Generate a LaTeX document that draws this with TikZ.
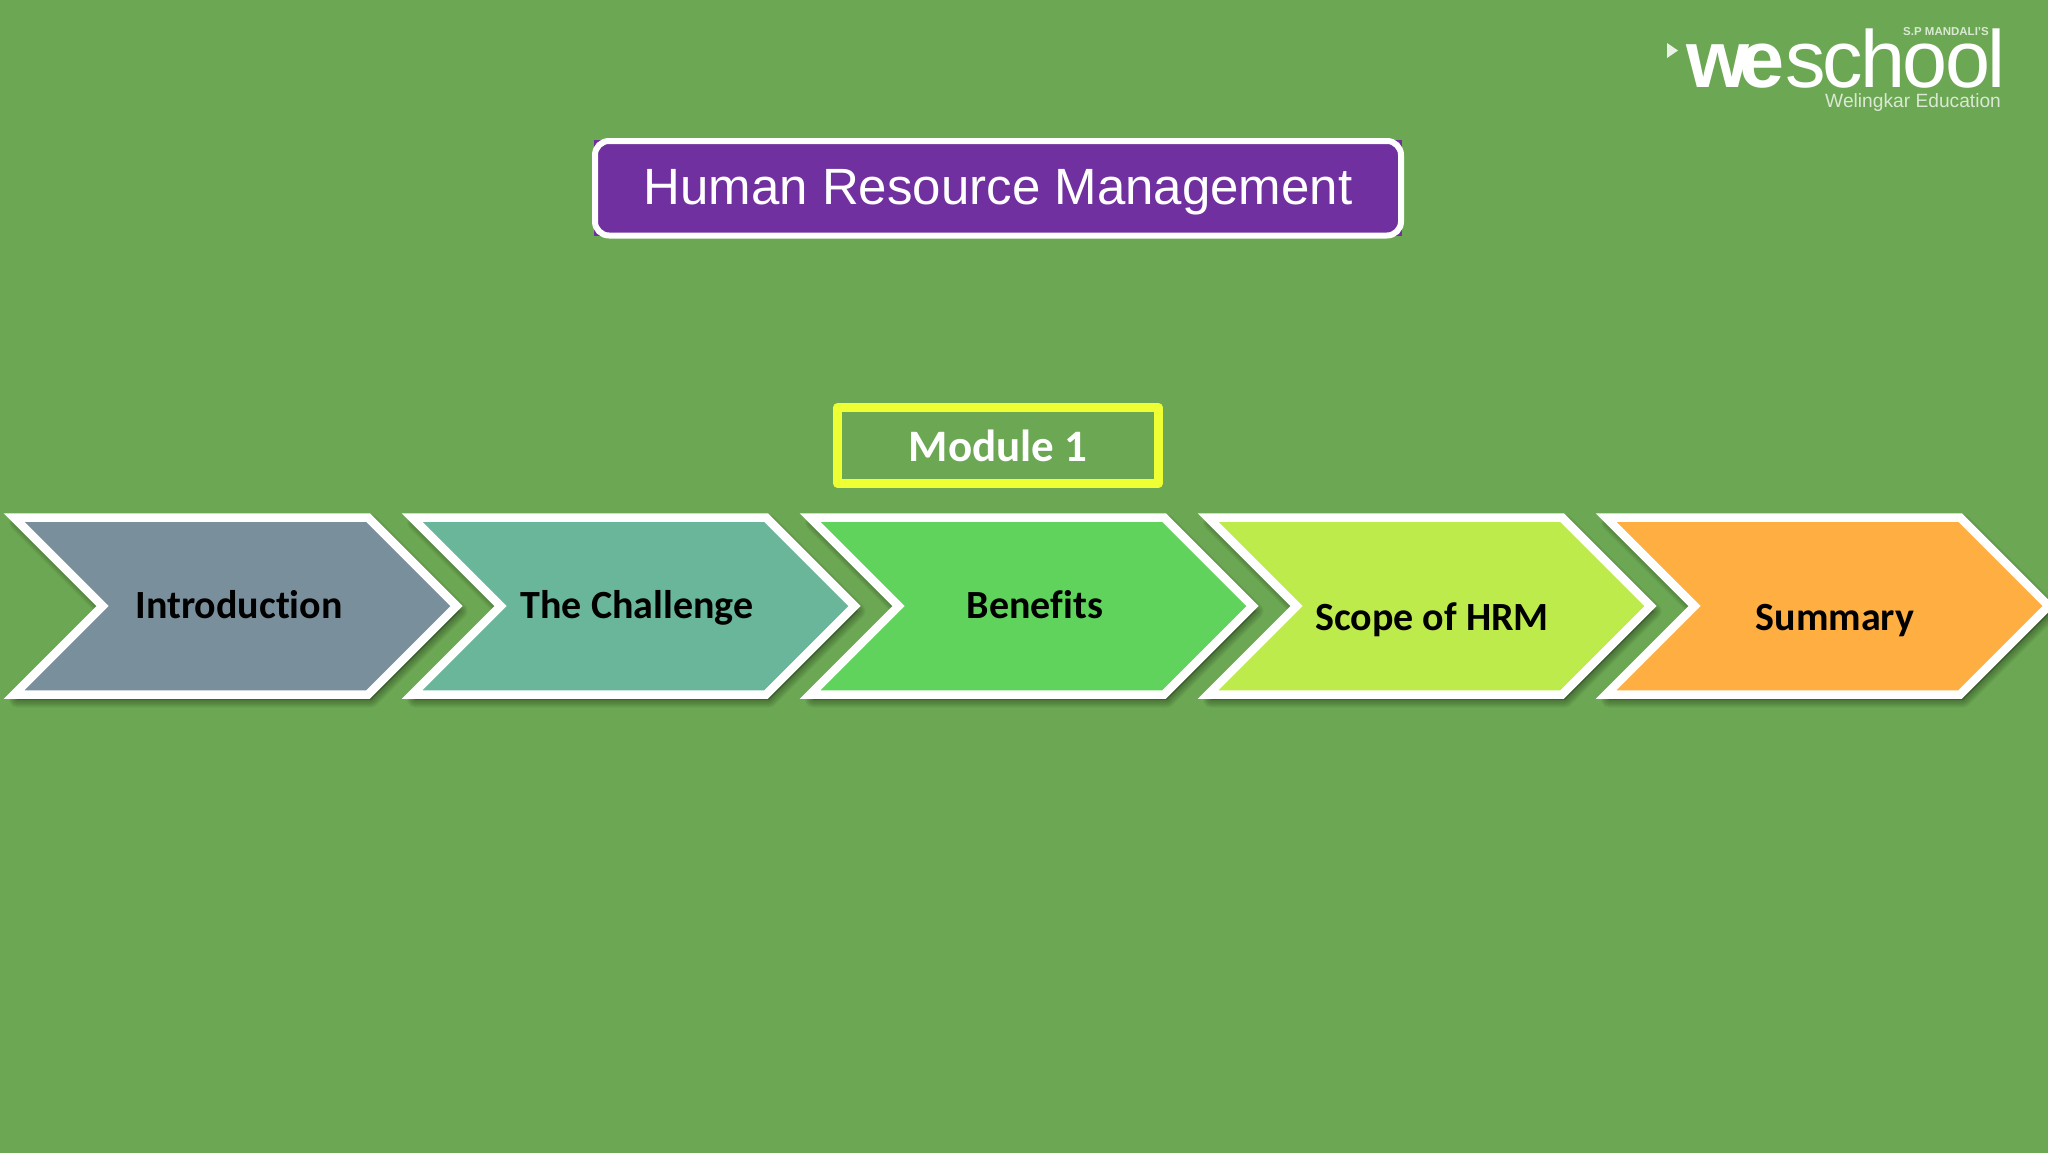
\documentclass[tikz,border=0pt]{standalone}
\usepackage{fontspec}
\setmainfont{Liberation Sans}
\newfontfamily\carl[Ligatures=NoCommon]{Carlito}
\definecolor{bgc}{HTML}{6CA753}
\definecolor{purp}{HTML}{7030A0}
\definecolor{yel}{HTML}{EEFF33}
\definecolor{chA}{HTML}{7A8F9C}
\definecolor{chB}{HTML}{69B69A}
\definecolor{chC}{HTML}{5FD35B}
\definecolor{chD}{HTML}{BEEB4C}
\definecolor{chE}{HTML}{FFAE42}
\newcommand{\chevpath}{(14,517.5) -- (368,517.5) -- (456.5,606) -- (368,694.5) -- (14,694.5) -- (102.5,606) -- cycle}
\tikzset{
  chevface/.style={draw=white,line width=8.5pt,miter limit=10,line join=miter},
  chevshade/.style={draw=black!60!bgc,fill=black!60!bgc,miter limit=10,line join=round,opacity=0.07},
  chevlabel/.style={text=black,font=\carl\bfseries\fontsize{40}{46}\selectfont,inner sep=0pt,anchor=base},
  logotext/.style={text=white,inner sep=0pt,anchor=base west}
}
\begin{document}
\begin{tikzpicture}[x=1pt,y=-1pt]
\useasboundingbox (0,0) rectangle (2048,1152);
\fill[bgc] (-5,-5) rectangle (2053,1157);
% title
\fill[purp] (594,140) rectangle (1402,236);
\draw[white,line width=6pt,rounded corners=14pt] (595,141) rectangle (1401,235.5);
\node[text=white,font=\fontsize{51}{60}\selectfont,inner sep=0pt,anchor=base] (title) at (998,204) {Human Resource Management};
% module
\draw[yel,line width=8.5pt,line join=round] (837.5,407.5) rectangle (1158.5,483.5);
\node[text=white,font=\carl\bfseries\fontsize{45}{50}\selectfont,inner sep=0pt,anchor=base] (module) at (998,461) {Module 1};
% chevrons
\foreach \i/\col in {0/chA,1/chB,2/chC,3/chD,4/chE}{
  \begin{scope}[shift={(398*\i,0)}]
    \foreach \w in {2,4,6,8,10,12,14,16}{
      \path[chevshade,line width=\w pt,shift={(3,5)}] \chevpath;
    }
    \path[chevface,fill=\col] \chevpath;
  \end{scope}
}
\node[chevlabel] (l1) at (239,618) {Introduction};
\node[chevlabel] (l2) at (637,618) {The Challenge};
\node[chevlabel] (l3) at (1035,618) {Benefits};
\node[chevlabel] (l4) at (1432,630) {Scope of HRM};
\node[chevlabel] (l5) at (1835,630) {Summary};
% logo
\fill[white!85!bgc] (1667,43) -- (1678,50.5) -- (1667,58) -- cycle;
\node[logotext,font=\bfseries\fontsize{81}{90}\selectfont] (we) at (1686,87) {\addfontfeature{LetterSpace=-12}we};
\node[logotext,font=\fontsize{81}{90}\selectfont] (school) at (1785,87) {\addfontfeature{LetterSpace=-3.5}school};
\node[logotext,font=\bfseries\fontsize{11.5}{13}\selectfont,opacity=.75] (sp) at (1903,35) {S.P MANDALI'S};
\node[logotext,font=\fontsize{19.2}{22}\selectfont,opacity=.75] (we2) at (1825,107) {Welingkar Education};
\end{tikzpicture}
\end{document}
